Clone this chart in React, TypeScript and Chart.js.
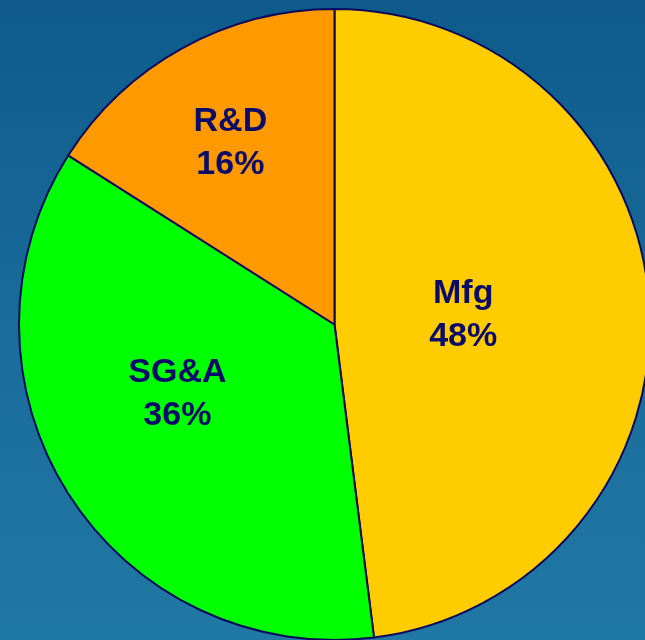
import React, { useEffect, useRef } from "react";
import { Chart, registerables } from "chart.js";

Chart.register(...registerables);

// Cost breakdown shares
const categories = ["Mfg", "SG&A", "R&D"];
const shares = [48, 36, 16];
const sliceColors = ["#FFCC00", "#00FF00", "#FF9900"];

// Label anchor for each slice, as offsets from the pie centre in units of radius
const labelOffsets: [number, number][] = [
  [0.408, -0.03],
  [-0.498, 0.222],
  [-0.33, -0.576],
];

const labelPlugin = {
  id: "sliceLabels",
  afterDatasetsDraw(chart: any) {
    const { ctx } = chart;
    const meta = chart.getDatasetMeta(0);
    ctx.save();
    ctx.fillStyle = "#0B0B69";
    ctx.font = "bold 34px 'Liberation Sans', Arial, sans-serif";
    ctx.textAlign = "center";
    ctx.textBaseline = "middle";
    meta.data.forEach((arc: any, i: number) => {
      const { x, y, outerRadius } = arc.getProps(["x", "y", "outerRadius"], true);
      const [fx, fy] = labelOffsets[i];
      const cx = x + fx * outerRadius;
      const cy = y + fy * outerRadius;
      ctx.fillText(categories[i], cx, cy - 21.5);
      ctx.fillText(`${shares[i]}%`, cx, cy + 21.5);
    });
    ctx.restore();
  },
};

export default function App() {
  const canvasRef = useRef<HTMLCanvasElement | null>(null);

  useEffect(() => {
    if (!canvasRef.current) return;
    const chart = new Chart(canvasRef.current, {
      type: "pie",
      data: {
        labels: categories,
        datasets: [
          {
            data: shares,
            backgroundColor: sliceColors,
            borderColor: "#0A0A5E",
            borderWidth: 2,
          },
        ],
      },
      options: {
        animation: false,
        responsive: false,
        maintainAspectRatio: false,
        layout: { padding: 0 },
        plugins: {
          legend: { display: false },
          tooltip: { enabled: false },
        },
      },
      plugins: [labelPlugin],
    });
    return () => chart.destroy();
  }, []);

  return (
    <div
      style={{
        position: "fixed",
        left: 0,
        top: 0,
        width: 645,
        height: 640,
        overflow: "hidden",
        background: "linear-gradient(to bottom, #0E5B8B 0%, #1A6D9C 55%, #2078A4 100%)",
      }}
    >
      <canvas
        ref={canvasRef}
        width={633}
        height={633}
        style={{ position: "absolute", left: 18, top: 8, width: 633, height: 633 }}
      />
    </div>
  );
}
